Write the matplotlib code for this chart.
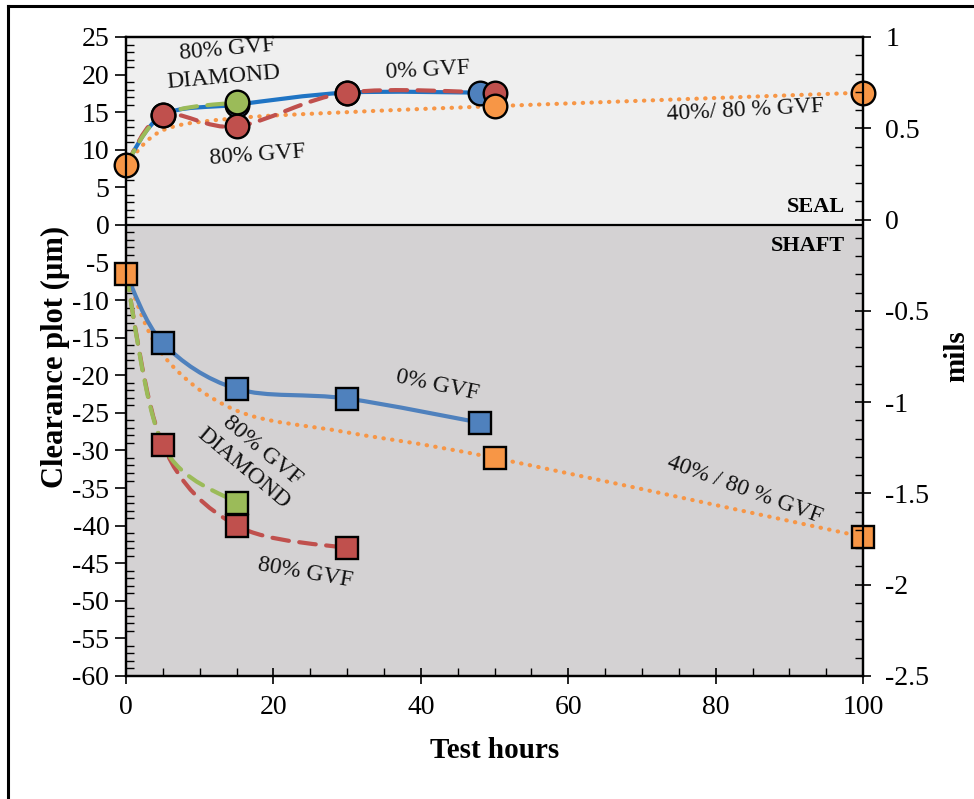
import numpy as np
import matplotlib
matplotlib.use('Agg')
import matplotlib.pyplot as plt
from matplotlib.path import Path
from matplotlib.patches import PathPatch
from matplotlib.ticker import MultipleLocator
from matplotlib.lines import Line2D

plt.rcParams['font.family'] = ['Liberation Serif', 'DejaVu Serif']
plt.rcParams['axes.unicode_minus'] = False

# ---------------
# Data (clearance, um) -- seal (top) and shaft (bottom)
# ---------------
seal_0gvf_x = [0, 5, 15, 30, 48]
seal_0gvf_y = [8, 14.6, 16.0, 17.6, 17.6]
seal_80gvf_x = [0, 5, 15, 30, 50]
seal_80gvf_y = [8, 14.6, 13.1, 17.6, 17.6]
seal_diam_x = [0, 5, 15]
seal_diam_y = [8, 14.6, 16.3]
seal_40_80_x = [0, 5, 15, 30, 50, 100]
seal_40_80_y = [8, 12.6, 14.2, 15.0, 15.8, 17.6]

shaft_0gvf_x = [0, 5, 15, 30, 48]
shaft_0gvf_y = [-6.5, -15.7, -21.8, -23.1, -26.3]
shaft_80gvf_x = [0, 5, 15, 30]
shaft_80gvf_y = [-6.5, -29.3, -40.0, -43.0]
shaft_diam_x = [0, 5, 15]
shaft_diam_y = [-6.5, -29.3, -37.0]
shaft_40_80_x = [0, 5, 15, 30, 50, 100]
shaft_40_80_y = [-6.5, -17.3, -24.7, -27.6, -31.0, -41.5]
# marker indices for the 40/80 series (others are only curve points)
marks_40_80 = [0, 4, 5]

mils_ticks = [-2.5, -2, -1.5, -1, -0.5, 0, 0.5, 1]
mils_labels = ['-2.5', '-2', '-1.5', '-1', '-0.5', '0', '0.5', '1']

BLUE_LINE = '#1F74C4'
BLUE = '#4F81BD'
RED = '#C0504D'
GREEN = '#9BBB59'
ORANGE = '#F79646'


def smooth_path(xs, ys):
    # Excel-like smoothed line: cubic bezier with catmull-rom controls
    pts = list(zip(xs, ys))
    verts = [pts[0]]
    codes = [Path.MOVETO]
    n = len(pts)
    for i in range(n - 1):
        p0 = np.array(pts[max(i - 1, 0)])
        p1 = np.array(pts[i])
        p2 = np.array(pts[i + 1])
        p3 = np.array(pts[min(i + 2, n - 1)])
        c1 = p1 + (p2 - p0) / 6.0
        c2 = p2 - (p3 - p1) / 6.0
        verts += [tuple(c1), tuple(c2), tuple(p2)]
        codes += [Path.CURVE4] * 3
    return Path(verts, codes)


def draw_line(ax, xs, ys, color, ls, lw=3.0, z=3):
    patch = PathPatch(smooth_path(xs, ys), fill=False, edgecolor=color,
                      linestyle=ls, linewidth=lw, zorder=z, capstyle='round')
    ax.add_patch(patch)


fig = plt.figure(figsize=(9.74, 7.99), dpi=100)
ax = fig.add_axes([0.1294, 0.154, 0.7567, 0.7997])

ax.axhspan(0, 25, color='#EFEFEF', zorder=0)
ax.axhspan(-60, 0, color='#D4D2D3', zorder=0)
ax.axhline(0, color='black', lw=1.6, zorder=2)

dashed = (0, (4, 2.5))
dotted = (0, (0.1, 2.0))

# lines
draw_line(ax, seal_40_80_x, seal_40_80_y, ORANGE, dotted)
draw_line(ax, seal_0gvf_x, seal_0gvf_y, BLUE_LINE, '-')
draw_line(ax, seal_80gvf_x, seal_80gvf_y, RED, dashed)
draw_line(ax, seal_diam_x, seal_diam_y, GREEN, dashed)

draw_line(ax, shaft_40_80_x, shaft_40_80_y, ORANGE, dotted)
draw_line(ax, shaft_0gvf_x, shaft_0gvf_y, BLUE, '-')
draw_line(ax, shaft_80gvf_x, shaft_80gvf_y, RED, dashed)
draw_line(ax, shaft_diam_x, shaft_diam_y, GREEN, dashed)

# markers
mk = dict(ls='none', markeredgecolor='black', markeredgewidth=1.7, zorder=5)
ax.plot(seal_0gvf_x[1:], seal_0gvf_y[1:], 'o', ms=17, mfc=BLUE, **mk)
ax.plot(seal_80gvf_x[1:], seal_80gvf_y[1:], 'o', ms=17, mfc=RED, **mk)
ax.plot(seal_diam_x[2:], seal_diam_y[2:], 'o', ms=17, mfc=GREEN, **mk)
ax.plot([seal_40_80_x[i] for i in marks_40_80], [seal_40_80_y[i] for i in marks_40_80],
        'o', ms=17, mfc=ORANGE, clip_on=False, **mk)

ax.plot(shaft_0gvf_x[1:], shaft_0gvf_y[1:], 's', ms=16, mfc=BLUE, **mk)
ax.plot(shaft_diam_x[2:], shaft_diam_y[2:], 's', ms=16, mfc=GREEN, **mk)
ax.plot(shaft_80gvf_x[1:], shaft_80gvf_y[1:], 's', ms=16, mfc=RED, **mk)
ax.plot([shaft_40_80_x[i] for i in marks_40_80], [shaft_40_80_y[i] for i in marks_40_80],
        's', ms=16, mfc=ORANGE, clip_on=False, **mk)

# annotations
tk = dict(fontsize=17, ha='center', va='center', color='#111111', zorder=6)
ax.text(13.8, 23.3, '80% GVF', rotation=5, **tk)
ax.text(13.3, 19.6, 'DIAMOND', rotation=5, **tk)
ax.text(17.9, 9.3, '80% GVF', rotation=4, **tk)
ax.text(41.0, 20.6, '0% GVF', rotation=3, **tk)
ax.text(84.0, 15.3, '40%/ 80 % GVF', rotation=3, **tk)
ax.text(42.2, -21.4, '0% GVF', rotation=-12, **tk)
ax.text(18.5, -30.0, '80% GVF', rotation=-40, **tk)
ax.text(15.9, -32.4, 'DIAMOND', rotation=-40, **tk)
ax.text(24.3, -46.3, '80% GVF', rotation=-10, **tk)
ax.text(84.0, -35.2, '40% / 80 % GVF', rotation=-20, **tk)
ax.text(97.6, 2.4, 'SEAL', fontsize=16, fontweight='bold', ha='right', va='center')
ax.text(97.6, -2.8, 'SHAFT', fontsize=16, fontweight='bold', ha='right', va='center')

# axes
ax.set_xlim(0, 100)
ax.set_ylim(-60, 25)
ax.xaxis.set_major_locator(MultipleLocator(20))
ax.xaxis.set_minor_locator(MultipleLocator(5))
ax.yaxis.set_major_locator(MultipleLocator(5))
ax.yaxis.set_minor_locator(MultipleLocator(1))
ax.tick_params(which='major', direction='inout', length=12, width=1.2, labelsize=20, pad=8)
ax.tick_params(which='minor', direction='in', length=6, width=1.0)
ax.tick_params(axis='y', which='major', direction='out', length=8, pad=4)
for s in ax.spines.values():
    s.set_linewidth(1.6)

ax.set_xlabel('Test hours', fontsize=21, fontweight='bold', labelpad=12)
ax.set_ylabel('Clearance plot (µm)', fontsize=22, fontweight='bold', labelpad=2)

ax2 = ax.twinx()
ax2.set_ylim(-2.5, 1)
ax2.set_yticks(mils_ticks)
ax2.set_yticklabels(mils_labels)
ax2.yaxis.set_minor_locator(MultipleLocator(0.1))
ax2.tick_params(which='major', direction='inout', length=12, width=1.2, labelsize=20, pad=10)
ax2.tick_params(which='minor', direction='in', length=6, width=1.0)
ax2.set_ylabel('mils', fontsize=21, fontweight='bold', labelpad=10)
for s in ax2.spines.values():
    s.set_linewidth(1.6)

# outer frame (top and left edges visible)
fig.add_artist(Line2D([8 / 974, 1.0], [1 - 6 / 799, 1 - 6 / 799], color='black', lw=2.2,
                      transform=fig.transFigure))
fig.add_artist(Line2D([8 / 974, 8 / 974], [0.0, 1 - 6 / 799], color='black', lw=2.2,
                      transform=fig.transFigure))

fig.savefig('out.png', dpi=100)
